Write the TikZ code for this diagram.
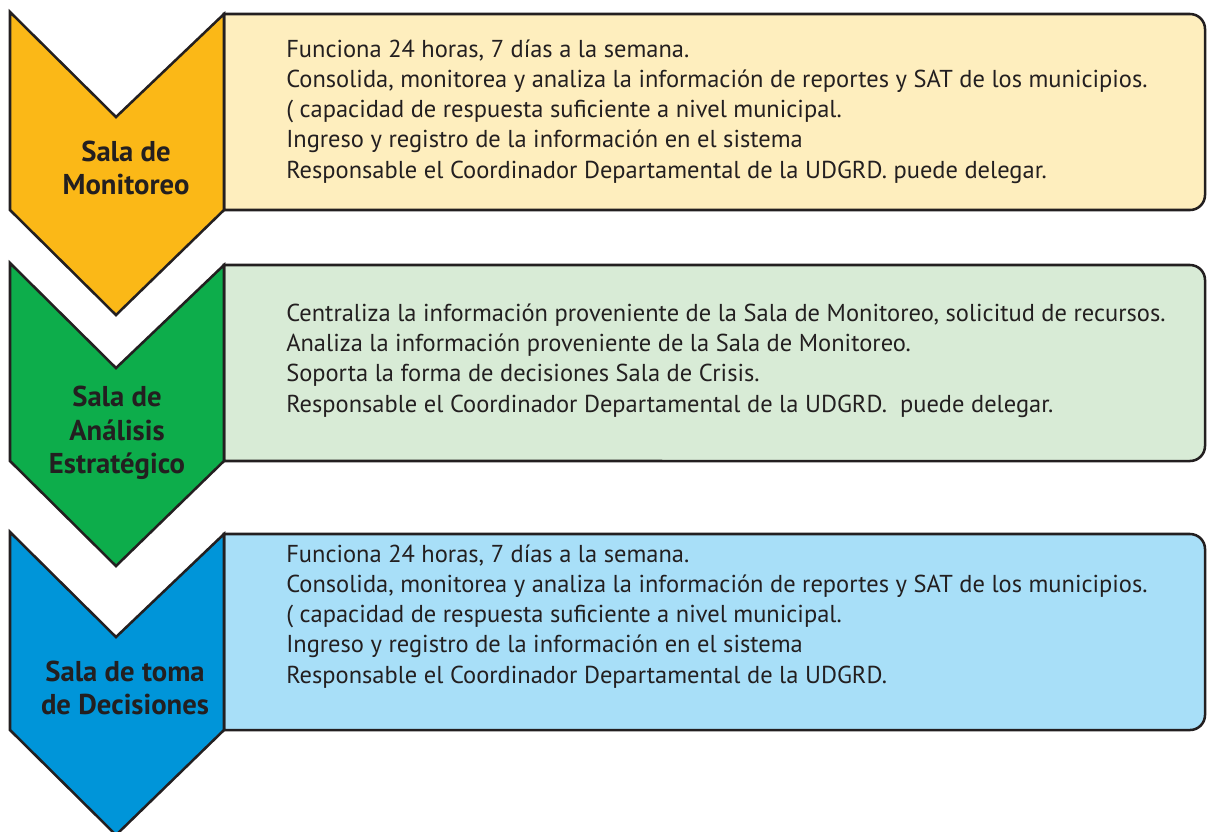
\documentclass[tikz,border=0pt]{standalone}
\usepackage{fontspec}
\setmainfont{PT Sans}
\usepackage{xcolor}
\usetikzlibrary{positioning, calc}

\definecolor{orangesala}{RGB}{251,184,23}
\definecolor{yellowbox}{RGB}{254,238,190}
\definecolor{greensala}{RGB}{13,173,75}
\definecolor{greenbox}{RGB}{216,235,214}
\definecolor{bluesala}{RGB}{0,149,217}
\definecolor{bluebox}{RGB}{168,223,248}
\definecolor{outline}{RGB}{35,31,32}

\begin{document}
\begin{tikzpicture}[x=0.025cm, y=-0.025cm,
  edge/.style={draw=outline, line width=1.8pt, line join=miter},
  title/.style={font=\bfseries\fontsize{20.4}{24}\selectfont, text=outline, align=center},
  info/.style={font=\fontsize{17.4}{21.5}\selectfont, text=outline, align=left, anchor=base west, inner sep=0pt}]
  \useasboundingbox (0,0) rectangle (1207,831);

  % boxes
  \path[edge, fill=yellowbox] (224,14) -- (1190,14) arc[start angle=90, end angle=0, radius=0.375cm]
    -- (1205,195) arc[start angle=0, end angle=-90, radius=0.375cm] -- (224,210) -- cycle;
  \path[edge, fill=greenbox] (224,265) -- (1190,265) arc[start angle=90, end angle=0, radius=0.375cm]
    -- (1205,446) arc[start angle=0, end angle=-90, radius=0.375cm] -- (224,461) -- cycle;
  \path[edge, fill=bluebox] (224,534) -- (1190,534) arc[start angle=90, end angle=0, radius=0.375cm]
    -- (1205,715) arc[start angle=0, end angle=-90, radius=0.375cm] -- (224,730) -- cycle;

  % chevrons
  \path[edge, fill=orangesala] (10,12) -- (116,117) -- (224,14) -- (224,210) -- (116,315) -- (10,210) -- cycle;
  \path[edge, fill=greensala] (10,263) -- (116,368) -- (224,265) -- (224,461) -- (116,566) -- (10,461) -- cycle;
  \path[edge, fill=bluesala] (10,532) -- (116,637) -- (224,534) -- (224,730) -- (116,835) -- (10,730) -- cycle;

  \node[title] (monitoreo) at (126,168) {Sala de\\Monitoreo};
  \node[title] (analisis) at (117,433) {Sala de\\Análisis\\Estratégico};
  \node[title] (decisiones) at (125,688) {Sala de toma\\de Decisiones};

  % anchor is the baseline of the last line
  \node[info] (monitoreotext) at (286,178) {Funciona 24 horas, 7 días a la semana.\\
    Consolida, monitorea y analiza la información de reportes y SAT de los municipios.\\
    ( capacidad de respuesta suficiente a nivel municipal.\\
    Ingreso y registro de la información en el sistema\\
    Responsable el Coordinador Departamental de la UDGRD. puede delegar.};
  \node[info] (analisistext) at (286,412) {Centraliza la información proveniente de la Sala de Monitoreo, solicitud de recursos.\\
    Analiza la información proveniente de la Sala de Monitoreo.\\
    Soporta la forma de decisiones Sala de Crisis.\\
    Responsable el Coordinador Departamental de la UDGRD.\ \ puede delegar.};
  \node[info] (decisionestext) at (286,683) {Funciona 24 horas, 7 días a la semana.\\
    Consolida, monitorea y analiza la información de reportes y SAT de los municipios.\\
    ( capacidad de respuesta suficiente a nivel municipal.\\
    Ingreso y registro de la información en el sistema\\
    Responsable el Coordinador Departamental de la UDGRD.};
\end{tikzpicture}
\end{document}
